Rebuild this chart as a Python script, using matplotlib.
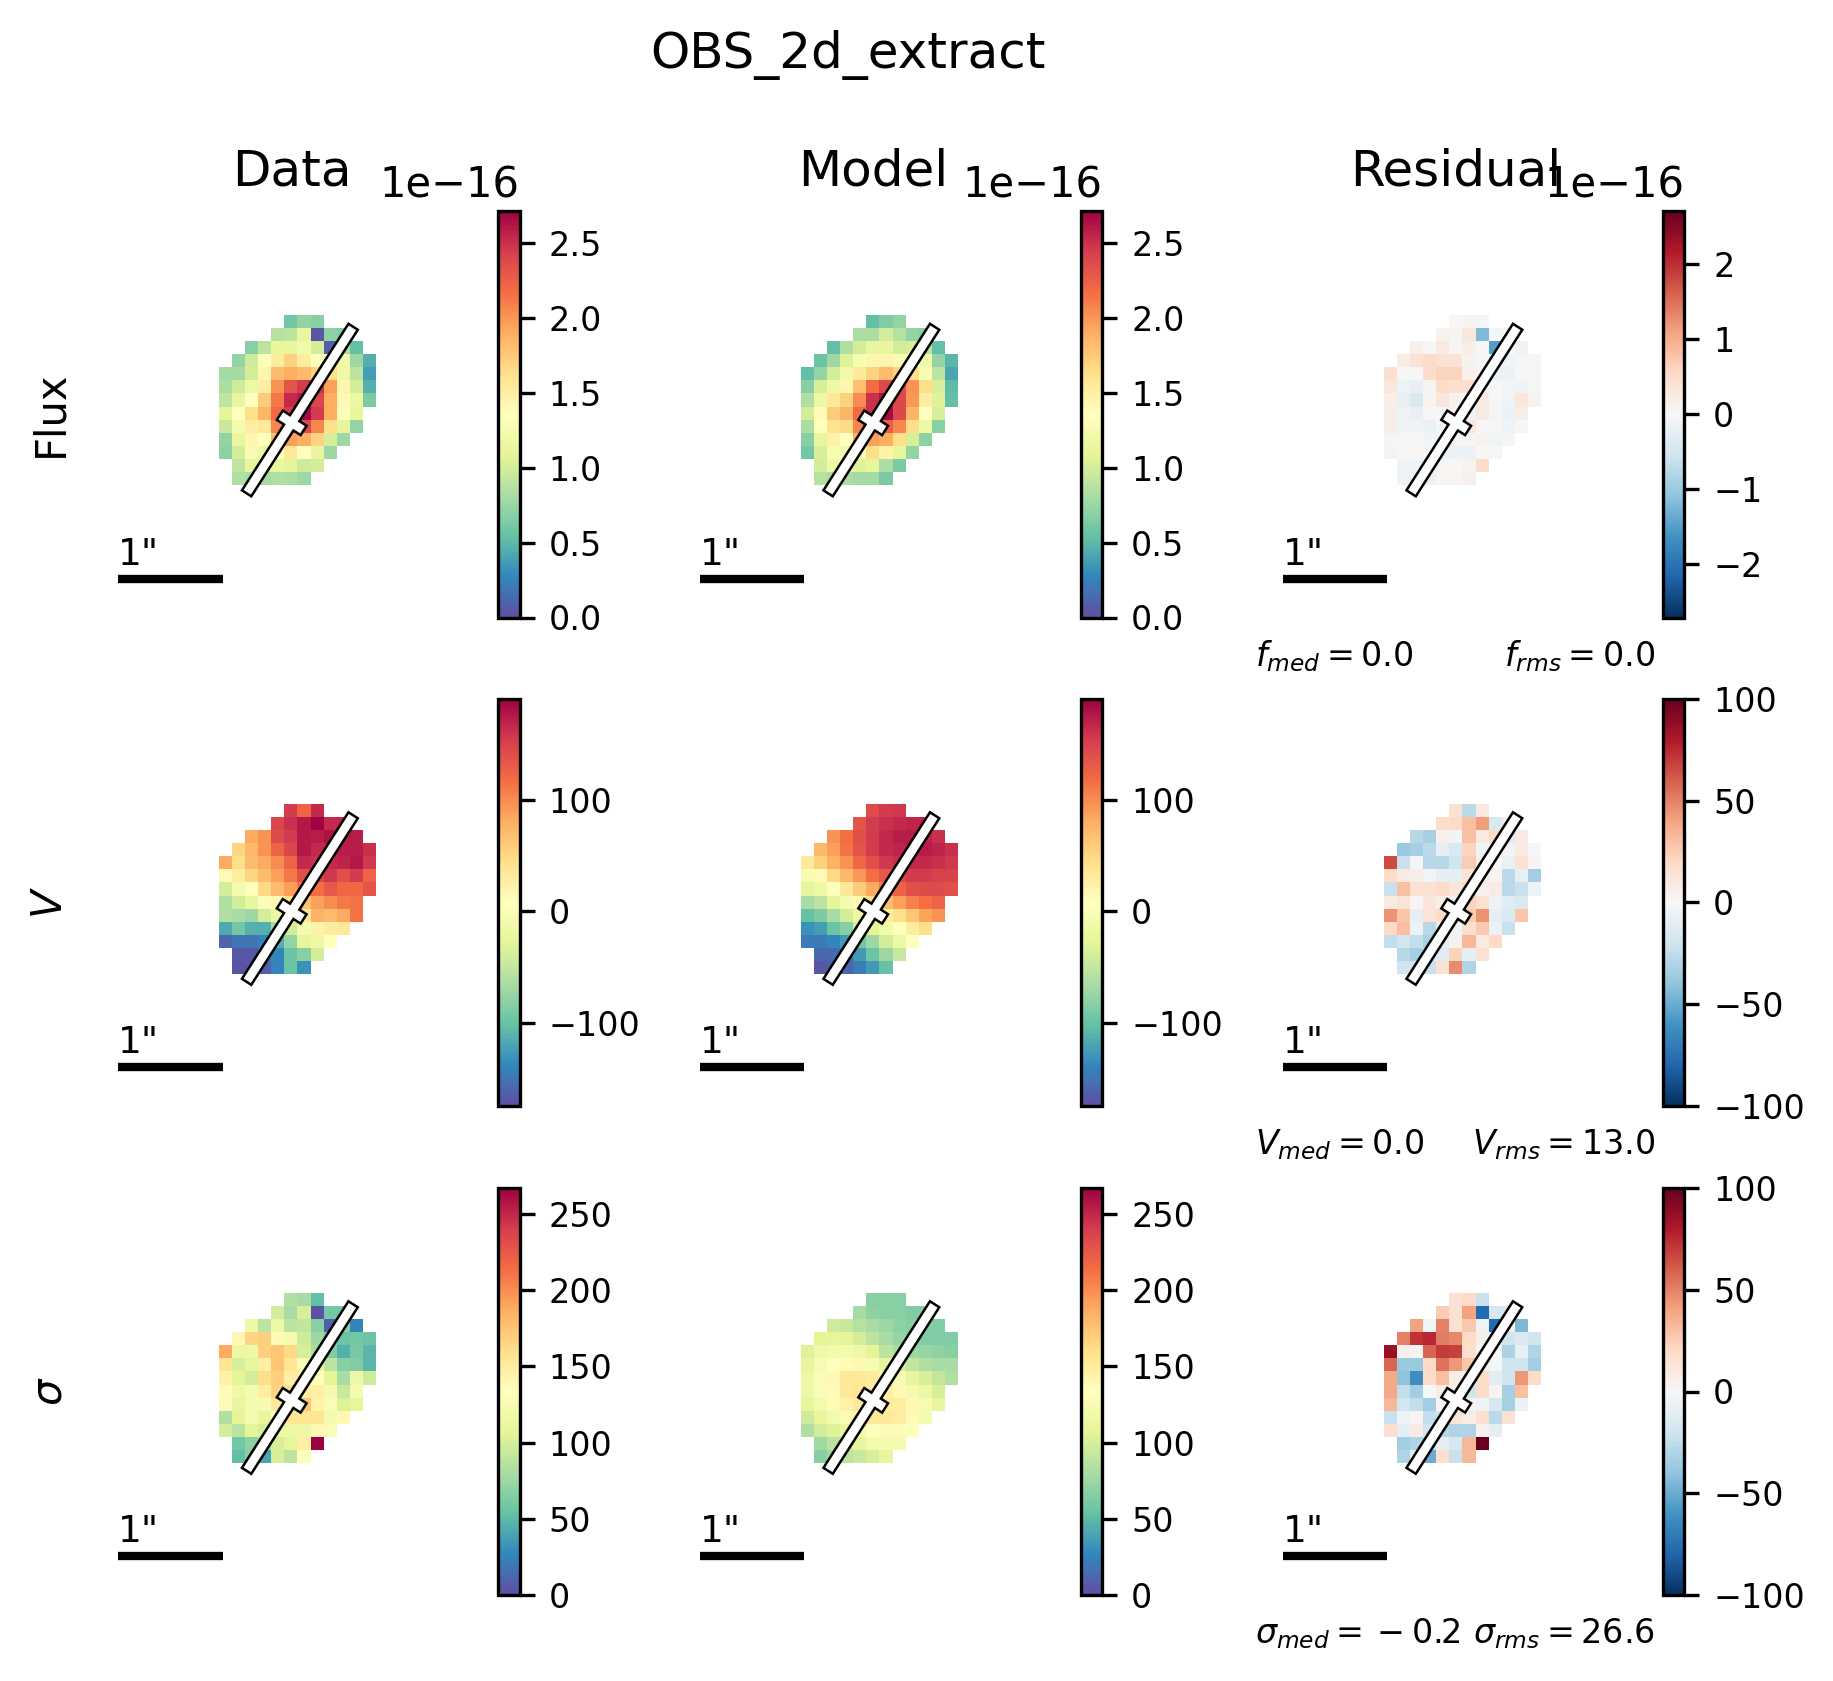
"""OBS_2d_extract: data / model / residual maps for flux, V and sigma."""
import numpy as np
import matplotlib
matplotlib.use("Agg")
import matplotlib.pyplot as plt
from matplotlib.patches import Polygon

n = np.nan

# flux maps, units of 1e-16
flux_data = [
    [n, n, n, n, n, .60, .73, .68, n, n, n, n],
    [n, n, n, n, .87, .90, 1.14, .05, .71, .65, n, n],
    [n, n, .68, .90, 1.12, 1.14, 1.22, 1.00, .08, .82, .54, n],
    [n, .73, .98, 1.33, 1.52, 1.71, 1.52, 1.36, 1.41, 1.22, .76, .46],
    [.79, .79, 1.00, 1.44, 1.82, 1.90, 1.82, 1.71, 1.63, 1.20, .90, .38],
    [.82, .98, 1.17, 1.50, 2.01, 2.31, 2.45, 2.50, 1.96, 1.44, 1.00, .46],
    [.92, 1.14, 1.36, 1.74, 2.12, 2.53, 2.61, 2.39, 1.90, 1.41, 1.17, .63],
    [1.09, 1.36, 1.63, 1.85, 2.18, 2.45, 2.67, 2.45, 1.90, 1.33, 1.12, n],
    [.95, 1.25, 1.50, 1.55, 2.07, 2.31, 2.39, 2.07, 1.63, 1.14, .73, n],
    [.73, 1.14, 1.44, 1.36, 1.80, 1.96, 1.90, 1.69, 1.03, .76, n, n],
    [.71, 1.00, 1.28, 1.17, 1.36, 1.55, 1.36, 1.14, .76, n, n, n],
    [n, .92, 1.14, 1.14, 1.12, 1.09, .98, 1.00, n, n, n, n],
    [n, .84, .82, .79, .84, .82, .76, n, n, n, n, n],
]
flux_model = [
    [n, n, n, n, n, .54, .65, .73, n, n, n, n],
    [n, n, n, n, .82, .82, 1.00, .87, .73, .68, n, n],
    [n, n, .54, .84, 1.00, 1.14, 1.14, 1.00, 1.03, .90, .54, n],
    [n, .57, .76, 1.06, 1.28, 1.44, 1.44, 1.39, 1.36, 1.22, .73, .49],
    [.54, .73, 1.00, 1.22, 1.55, 1.69, 1.82, 1.69, 1.63, 1.28, .90, .41],
    [.68, 1.03, 1.20, 1.44, 1.80, 2.18, 2.39, 2.34, 2.01, 1.63, 1.03, .52],
    [.84, 1.17, 1.55, 1.71, 2.04, 2.50, 2.64, 2.39, 1.99, 1.50, 1.06, .54],
    [1.00, 1.39, 1.74, 1.85, 2.18, 2.50, 2.67, 2.37, 1.85, 1.36, 1.03, n],
    [.82, 1.36, 1.60, 1.66, 2.07, 2.23, 2.26, 2.07, 1.63, 1.17, .68, n],
    [.68, 1.14, 1.47, 1.36, 1.90, 1.96, 1.90, 1.63, 1.03, .71, n, n],
    [.60, 1.03, 1.28, 1.22, 1.41, 1.63, 1.47, 1.12, .73, n, n, n],
    [n, 1.00, 1.17, 1.14, 1.06, 1.12, .82, .63, n, n, n, n],
    [n, .87, .82, .82, .79, .79, .63, n, n, n, n, n],
]
flux_resid = [
    [n, n, n, n, n, .02, .07, -.03, n, n, n, n],
    [n, n, n, n, .10, .03, .30, -1.20, -.05, 0, n, n],
    [n, n, .13, .01, .27, .03, .18, -.02, -1.50, 0, -.10, n],
    [n, .20, .40, .55, .40, .40, .10, .02, -.05, -.10, -.05, -.05],
    [.45, .02, .02, .50, .60, .60, .12, 0, -.15, -.17, 0, -.04],
    [.30, -.14, -.20, .07, .55, .45, .45, .02, 0, -.07, -.10, -.05],
    [.13, -.20, -.40, .08, .30, .09, -.02, .20, 0, -.07, .30, .10],
    [.18, -.10, -.20, .03, .02, .05, -.10, .25, .08, -.15, .15, n],
    [.17, -.10, -.12, -.18, .02, -.02, .28, .02, -.03, -.10, 0, n],
    [-.04, -.02, -.02, -.08, .02, .05, .03, .09, -.07, .05, n, n],
    [.08, -.02, .05, -.05, -.10, -.15, -.15, .02, -.02, n, n, n],
    [n, -.10, -.08, -.05, .03, -.01, .10, .50, n, n, n, n],
    [n, -.10, -.08, -.15, .06, .05, .12, n, n, n, n, n],
]

# velocity maps, km/s
vel_data = [
    [n, n, n, n, n, 154, 124, 165, n, n, n, n],
    [n, n, n, n, 146, 161, 175, 188, 165, 165, n, n],
    [n, n, 81, 95, 143, 154, 175, 172, 179, 172, 172, n],
    [n, 52, 73, 95, 124, 146, 175, 165, 165, 172, 172, 161],
    [81, 44, 70, 81, 99, 124, 165, 161, 165, 168, 175, 157],
    [15, 30, 52, 70, 88, 110, 139, 146, 157, 139, 154, 124],
    [-39, -7, 8, 48, 70, 88, 110, 117, 132, 121, 121, 135],
    [-61, -39, -21, 1, 15, 44, 66, 88, 99, 110, 114, n],
    [-61, -65, -72, -39, -17, 8, 37, 77, 70, 81, 114, n],
    [-116, -94, -112, -112, -65, -39, -7, 23, 30, 33, n, n],
    [-159, -149, -149, -141, -112, -76, -25, -14, 8, n, n, n],
    [n, -167, -167, -156, -138, -98, -83, -39, n, n, n, n],
    [n, -170, -170, -163, -141, -98, -130, n, n, n, n, n],
]
vel_model = [
    [n, n, n, n, n, 143, 154, 157, n, n, n, n],
    [n, n, n, n, 135, 154, 161, 165, 168, 168, n, n],
    [n, n, 95, 117, 139, 154, 165, 172, 172, 168, 161, n],
    [n, 73, 88, 114, 135, 154, 165, 168, 172, 172, 168, 161],
    [33, 55, 77, 95, 121, 139, 157, 161, 165, 165, 161, 157],
    [-3, 15, 48, 73, 92, 117, 132, 146, 154, 154, 150, 150],
    [-25, -14, 8, 33, 59, 81, 110, 124, 139, 143, 143, 139],
    [-65, -54, -28, -7, 15, 44, 70, 88, 106, 117, 124, n],
    [-101, -90, -65, -39, -17, 8, 30, 44, 63, 85, 95, n],
    [-130, -123, -98, -83, -36, -28, -10, 8, 30, 44, n, n],
    [-145, -145, -138, -127, -94, -72, -39, -17, 4, n, n, n],
    [n, -156, -156, -149, -127, -98, -72, -47, n, n, n, n],
    [n, -167, -163, -159, -145, -127, -101, n, n, n, n, n],
]
vel_resid = [
    [n, n, n, n, n, 15, -27, 10, n, n, n, n],
    [n, n, n, n, 18, 20, 30, 42, -15, 10, n, n],
    [n, n, -28, -33, 5, -3, 30, 10, 20, -12, 8, n],
    [n, -37, -33, -27, -10, -15, 22, -3, 5, -3, 8, 0],
    [65, -22, -1, -28, -28, -20, 25, 5, 0, -7, 15, 3],
    [20, 8, 6, -3, -10, -10, 14, 8, 3, -27, -8, -35],
    [-22, 30, 15, 15, 20, 12, 20, 4, 8, -27, -22, -5],
    [8, 13, 2, 12, 6, -3, 22, 15, -5, -12, -15, n],
    [45, 28, -8, 14, 20, 5, 25, 45, -9, -15, 28, n],
    [20, 30, -6, -28, -5, -3, 17, 26, -6, -22, n, n],
    [-25, -18, -25, -32, -12, 4, 33, 10, 20, n, n, n],
    [n, -28, -33, -15, -12, 22, -10, 15, n, n, n, n],
    [n, -19, -20, -22, 15, 47, -30, n, n, n, n, n],
]

# dispersion maps, km/s
sig_data = [
    [n, n, n, n, n, 83, 80, 53, n, n, n, n],
    [n, n, n, n, 99, 80, 101, 3, 59, 59, n, n],
    [n, n, 115, 88, 115, 88, 91, 67, 8, 67, 27, n],
    [n, 139, 166, 168, 136, 123, 96, 75, 64, 56, 59, 56],
    [187, 115, 117, 168, 174, 163, 101, 80, 64, 45, 61, 48],
    [155, 101, 109, 147, 174, 155, 128, 112, 88, 67, 64, 48],
    [144, 107, 99, 160, 168, 147, 147, 134, 107, 80, 117, 96],
    [136, 117, 123, 147, 166, 160, 147, 147, 123, 93, 123, n],
    [128, 112, 123, 125, 152, 160, 174, 144, 128, 104, 109, n],
    [83, 107, 123, 112, 134, 155, 155, 155, 120, 139, n, n],
    [99, 88, 107, 101, 115, 117, 117, 139, 128, n, n, n],
    [n, 59, 69, 80, 101, 109, 147, 267, n, n, n, n],
    [n, 53, 67, 40, 101, 88, 134, n, n, n, n, n],
]
sig_model = [
    [n, n, n, n, n, 67, 67, 67, n, n, n, n],
    [n, n, n, n, 80, 69, 67, 67, 64, 64, n, n],
    [n, n, 96, 93, 85, 80, 75, 69, 67, 64, 64, n],
    [n, 107, 109, 107, 99, 88, 80, 72, 67, 64, 64, 64],
    [104, 117, 120, 123, 117, 107, 88, 80, 75, 72, 69, 67],
    [112, 125, 134, 136, 139, 125, 112, 99, 91, 83, 80, 80],
    [115, 128, 139, 152, 152, 150, 141, 125, 112, 101, 91, 83],
    [115, 128, 136, 152, 155, 150, 147, 139, 123, 115, 101, n],
    [109, 120, 136, 144, 152, 150, 150, 150, 139, 125, 112, n],
    [96, 109, 120, 128, 141, 152, 152, 150, 136, 123, n, n],
    [83, 99, 104, 112, 123, 134, 136, 136, 131, n, n, n],
    [n, 77, 88, 96, 112, 120, 123, 123, n, n, n, n],
    [n, 67, 77, 88, 93, 101, 112, n, n, n, n, n],
]
sig_resid = [
    [n, n, n, n, n, 15, 20, -22, n, n, n, n],
    [n, n, n, n, 25, 15, 40, -78, -16, -15, n, n],
    [n, n, 40, -3, 50, 15, 27, -5, -78, 7, -45, n],
    [n, 50, 72, 75, 52, 48, 20, 6, -8, -20, -15, -20],
    [86, 5, 3, 58, 70, 68, 17, 3, -2, -32, -10, -30],
    [58, -37, -37, 20, 54, 43, 28, -5, -2, -20, -20, -35],
    [38, -40, -62, 18, 30, 7, -5, 18, -11, -20, 43, 18],
    [38, -25, -35, 0, 7, 4, -20, 18, 3, -33, 30, n],
    [33, -19, -25, -35, 2, 5, 3, -5, -16, -33, -6, n],
    [-22, -5, 3, -25, -20, 12, 7, 17, -27, 15, n, n],
    [17, -10, 8, -20, -28, -30, -30, 4, -9, n, n, n],
    [n, -35, -30, -25, -9, -17, 33, 100, n, n, n, n],
    [n, -30, -10, -50, 17, -22, 33, n, n, n, n, n],
]

col_titles = ["Data", "Model", "Residual"]
row_labels = ["Flux", r"$V$", r"$\sigma$"]
stats_left = [r"$f_{med}=0.0$", r"$V_{med}=0.0$", r"$\sigma_{med}={}-0.2$"]
stats_right = [r"$f_{rms}=0.0$", r"$V_{rms}=13.0$", r"$\sigma_{rms}=26.6$"]

flux_ticks = [0, .5, 1, 1.5, 2, 2.5]
flux_res_ticks = [-2, -1, 0, 1, 2]
vel_ticks = [-100, 0, 100]
sig_ticks = [0, 50, 100, 150, 200, 250]
res_ticks = [-100, -50, 0, 50, 100]

W, H = 1833, 1681
PX_PER_ARCSEC = 104.6
PIXSCALE = 0.125
AX_SIZE = 407
AX_LEFT = [88, 669.5, 1252.5]
AX_TOP = [210.5, 699, 1188]
CB_LEFT = [498, 1080.5, 1662.5]
CB_WIDTH = 21.5
MAP_X0 = 131   # map left edge inside the axes, px
MAP_Y0 = 105   # map top edge inside the axes, px


def fig_rect(left, top, w, h):
    return [left / W, 1 - (top + h) / H, w / W, h / H]


def slit_outline(x0, y0):
    """Slit rectangle with a short cross bar, around (x0, y0) in arcsec."""
    lo, hi, hw, cross = 0.80, 1.09, 0.053, 0.135
    pts = [(-lo, -hw), (-hw, -hw), (-hw, -cross), (hw, -cross), (hw, -hw), (hi, -hw),
           (hi, hw), (hw, hw), (hw, cross), (-hw, cross), (-hw, hw), (-lo, hw)]
    ang = np.radians(57.4)
    return [(x0 + s * np.cos(ang) - t * np.sin(ang), y0 + s * np.sin(ang) + t * np.cos(ang))
            for s, t in pts]


def draw_panel(fig, row, col, values, cmap, vmin, vmax, ticks):
    left, top = AX_LEFT[col], AX_TOP[row]
    ax = fig.add_axes(fig_rect(left, top, AX_SIZE, AX_SIZE))
    half = AX_SIZE / 2 / PX_PER_ARCSEC

    x0 = -half + MAP_X0 / PX_PER_ARCSEC
    y0 = half - MAP_Y0 / PX_PER_ARCSEC
    arr = np.array(values, dtype=float)
    extent = [x0, x0 + arr.shape[1] * PIXSCALE, y0 - arr.shape[0] * PIXSCALE, y0]
    im = ax.imshow(arr, cmap=cmap, vmin=vmin, vmax=vmax, origin="upper",
                   extent=extent, interpolation="nearest", aspect="auto")

    # cross bar position relative to the map corner
    ax.add_patch(Polygon(slit_outline(x0 + 0.695, y0 - 1.026), closed=True,
                         facecolor="white", edgecolor="black", linewidth=0.6, zorder=3))

    bar_x = -half + 30 / PX_PER_ARCSEC
    bar_y = half - 368 / PX_PER_ARCSEC
    ax.plot([bar_x, bar_x + 1], [bar_y, bar_y], color="black", lw=2, solid_capstyle="butt")
    ax.text(bar_x, bar_y + 0.055, '1"', fontsize=9, ha="left", va="bottom")

    ax.set_xlim(-half, half)
    ax.set_ylim(-half, half)
    ax.axis("off")

    cax = fig.add_axes(fig_rect(CB_LEFT[col], top, CB_WIDTH, AX_SIZE))
    cb = fig.colorbar(im, cax=cax)
    cb.set_ticks(ticks)
    cb.ax.tick_params(labelsize=8)
    cb.ax.yaxis.get_offset_text().set_fontsize(10)
    return ax


def main():
    fig = plt.figure(figsize=(W / 300, H / 300), dpi=300)

    flux_unit = 1e-16
    fmax = 2.72e-16
    rows = [
        (flux_data, flux_model, flux_resid),
        (vel_data, vel_model, vel_resid),
        (sig_data, sig_model, sig_resid),
    ]
    scales = [flux_unit, 1, 1]
    limits = [(0, fmax), (-174, 190), (0, 267)]
    res_limits = [fmax, 100, 100]
    main_ticks = [[t * flux_unit for t in flux_ticks], vel_ticks, sig_ticks]
    resid_ticks = [[t * flux_unit for t in flux_res_ticks], res_ticks, res_ticks]

    for r, (d, m, e) in enumerate(rows):
        s = scales[r]
        for c, vals in enumerate((d, m)):
            draw_panel(fig, r, c, np.array(vals, dtype=float) * s, "Spectral_r",
                       limits[r][0], limits[r][1], main_ticks[r])
        draw_panel(fig, r, 2, np.array(e, dtype=float) * s, "RdBu_r",
                   -res_limits[r], res_limits[r], resid_ticks[r])

        cy = AX_TOP[r] + AX_SIZE / 2
        fig.text(50 / W, 1 - cy / H, row_labels[r], rotation=90, fontsize=10,
                 ha="center", va="center")
        sy = 1 - (AX_TOP[r] + 445.5) / H
        fig.text(1255 / W, sy, stats_left[r], fontsize=8, ha="left", va="center")
        fig.text(1655 / W, sy, stats_right[r], fontsize=8, ha="right", va="center")

    for c, title in enumerate(col_titles):
        fig.text((AX_LEFT[c] + AX_SIZE / 2) / W, 1 - 186 / H, title, fontsize=12,
                 ha="center", va="baseline")
    fig.text(848 / W, 1 - 54.5 / H, "OBS_2d_extract", fontsize=12, ha="center", va="center")

    fig.savefig("out.png", dpi=300)


if __name__ == "__main__":
    main()
